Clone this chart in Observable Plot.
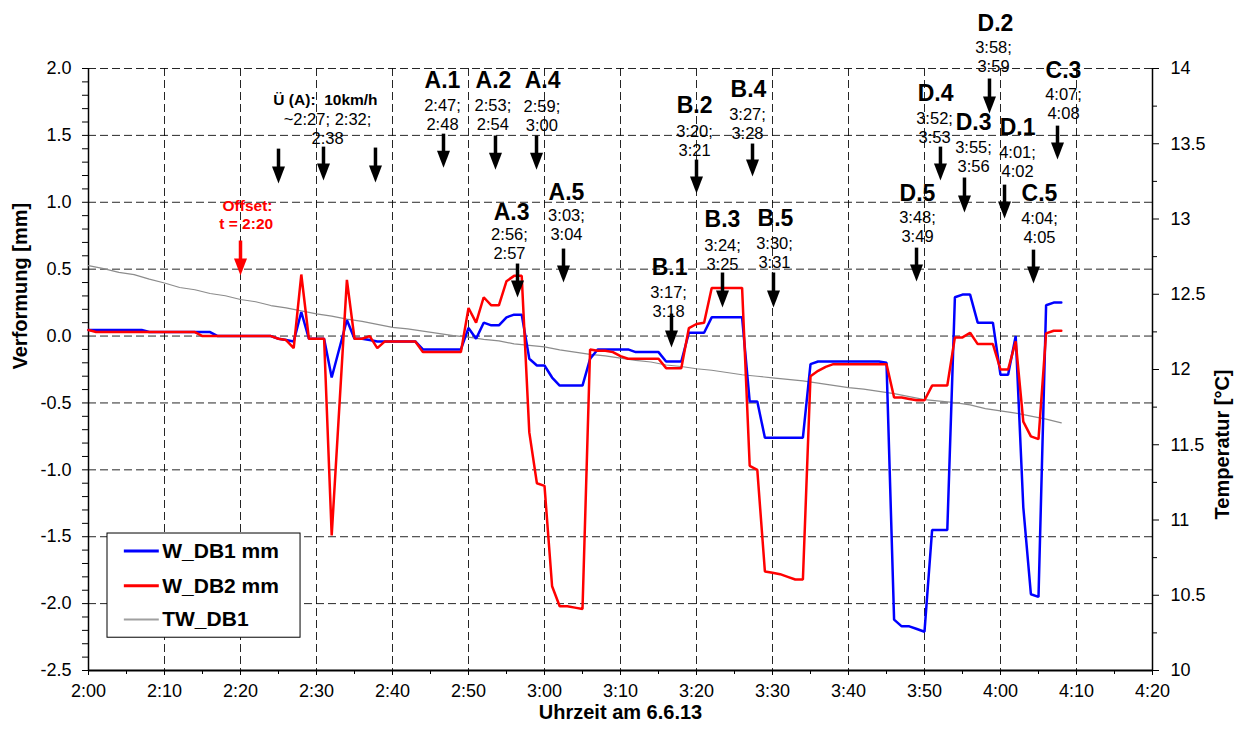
<!DOCTYPE html>
<html><head><meta charset="utf-8">
<script src="https://cdn.jsdelivr.net/npm/d3@7"></script>
<script src="https://cdn.jsdelivr.net/npm/@observablehq/plot@0.6"></script>
<style>html,body{margin:0;padding:0;background:#fff;}</style>
</head><body><div id="chart"></div>
<script>
// ---- data: minutes after 2:00 ----
const minutes = [0,1,2,3,4,5,6,7,8,9,10,11,12,13,14,15,16,17,18,19,20,21,22,23,24,25,26,27,28,29,30,31,32,
 34,35,36,37,38,39,40,41,42,43,44,45,46,47,48,49,50,51,52,53,54,55,56,57,58,59,60,61,62,63,64,65,66,67,68,69,
 70,71,72,73,74,75,76,77,78,79,80,81,82,83,84,85,86,87,88,89,90,91,92,93,94,95,96,97,98,99,100,101,102,103,104,
 105,106,107,108,109,110,111,112,113,114,115,116,117,118,119,120,121,122,123,124,125,126,127,128];
const wDB1 = [0.045,0.045,0.045,0.045,0.045,0.045,0.045,0.045,0.03,0.03,0.03,0.03,0.03,0.03,0.03,0.03,0.03,0,0,0,0,0,0,0,0,-0.02,-0.03,-0.04,0.18,-0.02,-0.02,-0.02,-0.31,
 0.12,-0.02,-0.02,-0.03,-0.04,-0.04,-0.04,-0.04,-0.04,-0.04,-0.1,-0.1,-0.1,-0.1,-0.1,-0.1,0.06,-0.02,0.1,0.08,0.08,0.14,0.16,0.16,-0.17,-0.22,-0.22,-0.31,-0.37,-0.37,-0.37,-0.37,-0.17,-0.1,-0.1,-0.1,
 -0.1,-0.1,-0.12,-0.12,-0.12,-0.12,-0.19,-0.19,-0.19,0.025,0.025,0.025,0.14,0.14,0.14,0.14,0.14,-0.49,-0.49,-0.76,-0.76,-0.76,-0.76,-0.76,-0.76,-0.21,-0.19,-0.19,-0.19,-0.19,-0.19,-0.19,-0.19,-0.19,-0.19,
 -0.2,-2.12,-2.17,-2.17,-2.19,-2.21,-1.45,-1.45,-1.45,0.29,0.31,0.31,0.1,0.1,0.1,-0.29,-0.29,0,-1.28,-1.93,-1.95,0.23,0.25,0.25];
const wDB2 = [0.045,0.03,0.03,0.03,0.03,0.03,0.03,0.03,0.03,0.03,0.03,0.03,0.03,0.03,0.03,0,0,0,0,0,0,0,0,0,0,-0.02,-0.03,-0.09,0.46,-0.02,-0.02,-0.02,-1.49,
 0.42,-0.02,-0.02,0,-0.09,-0.04,-0.04,-0.04,-0.04,-0.04,-0.12,-0.12,-0.12,-0.12,-0.12,-0.12,0.21,0.1,0.29,0.23,0.23,0.41,0.45,0.45,-0.72,-1.1,-1.12,-1.87,-2.02,-2.02,-2.03,-2.04,-0.1,-0.11,-0.11,-0.12,
 -0.15,-0.17,-0.17,-0.17,-0.17,-0.17,-0.24,-0.24,-0.24,0.06,0.09,0.1,0.36,0.36,0.36,0.36,0.36,-0.97,-1.0,-1.76,-1.77,-1.78,-1.8,-1.82,-1.82,-0.3,-0.26,-0.23,-0.21,-0.21,-0.21,-0.21,-0.21,-0.21,-0.21,
 -0.21,-0.46,-0.46,-0.47,-0.48,-0.48,-0.37,-0.37,-0.37,-0.01,-0.01,0.025,-0.06,-0.06,-0.06,-0.25,-0.25,-0.04,-0.64,-0.75,-0.77,0.02,0.04,0.04];
const tempMinutes = [0,2,4,6,8,10,12,14,16,18,20,22,24,26,28,30,32,34,36,38,40,42,44,46,48,50,52,54,56,58,60,62,64,
 66,68,70,72,74,76,78,80,82,84,86,88,90,92,94,96,98,100,102,104,106,108,110,112,114,116,118,120,122,124,126,128];
const twDB1 = [12.69,12.67,12.645,12.63,12.6,12.575,12.545,12.53,12.505,12.49,12.465,12.45,12.425,12.41,12.39,12.37,12.355,
 12.335,12.32,12.3,12.28,12.27,12.255,12.24,12.225,12.215,12.2,12.19,12.17,12.16,12.15,12.13,12.115,
 12.1,12.09,12.075,12.06,12.05,12.03,12.02,12.005,11.995,11.98,11.965,11.955,11.945,11.935,11.925,11.91,11.895,
 11.88,11.87,11.855,11.84,11.82,11.8,11.79,11.78,11.765,11.74,11.725,11.71,11.69,11.67,11.645];

// ---- ticks ----
const xTicks = [0,10,20,30,40,50,60,70,80,90,100,110,120,130,140];
const xMinor = [5,15,25,35,45,55,65,75,85,95,105,115,125,135];
const xGrid = [10,20,30,40,50,60,70,80,90,100,110,120,130];
const yTicks = [-2.5,-2,-1.5,-1,-0.5,0,0.5,1,1.5,2];
const yGrid = [-2,-1.5,-1,-0.5,0,0.5,1,1.5,2];
const yMinor = [-2.4,-2.3,-2.2,-2.1,-1.9,-1.8,-1.7,-1.6,-1.4,-1.3,-1.2,-1.1,-0.9,-0.8,-0.7,-0.6,-0.4,-0.3,-0.2,-0.1,0.1,0.2,0.3,0.4,0.6,0.7,0.8,0.9,1.1,1.2,1.3,1.4,1.6,1.7,1.8,1.9];
const tTicks = [10,10.5,11,11.5,12,12.5,13,13.5,14];
const tMinor = [10.25,10.75,11.25,11.75,12.25,12.75,13.25,13.75];

// ---- annotations (x in minutes after 2:00, y in mm) ----
const annNames  = ["A.1","A.2","A.4","A.5","A.3","B.1","B.2","B.4","B.3","B.5","D.2","C.3","D.4","D.3","D.1","D.5","C.5"];
const annNameX  = [46.58,53.29,59.74,62.89,55.66,76.45,79.74,86.84,83.42,90.39,119.34,128.29,111.45,116.45,122.24,109.08,125.13];
const annNameY  = [1.91,1.91,1.91,1.073,0.923,0.514,1.723,1.842,0.871,0.878,2.336,1.984,1.812,1.596,1.558,1.065,1.065];
const annTimes  = ["2:47;\n2:48","2:53;\n2:54","2:59;\n3:00","3:03;\n3:04","2:56;\n2:57","3:17;\n3:18","3:20;\n3:21","3:27;\n3:28","3:24;\n3:25","3:30;\n3:31","3:58;\n3:59","4:07;\n4:08","3:52;\n3:53","3:55;\n3:56","4:01;\n4:02","3:48;\n3:49","4:04;\n4:05"];
const annTimesX = [46.58,53.21,59.66,62.89,55.39,76.32,79.74,86.71,83.42,90.26,119.08,128.29,111.32,116.45,122.24,109.08,125.13];
const annTimesY = [1.659,1.659,1.652,0.837,0.691,0.258,1.461,1.588,0.613,0.624,2.089,1.738,1.562,1.345,1.308,0.822,0.815];
const arrowX    = [25.0,30.92,37.76,46.71,53.55,58.95,62.5,56.45,76.71,80.0,87.37,83.42,90.13,118.55,127.5,112.1,115.26,120.53,108.95,124.34];
const arrowTop  = [1.401,1.416,1.409,1.513,1.499,1.499,0.654,0.542,0.168,1.319,1.439,0.475,0.475,1.925,1.573,1.416,1.185,1.132,0.661,0.646];
const arrowTip  = [1.14,1.162,1.147,1.259,1.244,1.244,0.4,0.288,-0.086,1.065,1.192,0.213,0.213,1.663,1.319,1.162,0.923,0.878,0.407,0.392];
const overLabel = ["Ü (A):\u00a0 10km/h"];
const overTimes = ["~2:27; 2:32;\n2:38"];
const offsetLabels = ["Offset:", "t = 2:20"];
const offsetX = [20.92, 20.75];
const offsetY = [0.975, 0.839];
const offsetArrow = [{x: 20, top: 0.714, tip: 0.452}];

// legend
const legendNames = ["W_DB1 mm","W_DB2 mm","TW_DB1"];
const legendColors = ["#0000ff","#ff0000","#a0a0a0"];
const legendWidths = [3,3,2];
const legendY = [-1.607,-1.867,-2.119];
const legendBox = [{x1: 2.5, x2: 27.9, y1: -2.255, y2: -1.476}];

// ---- helpers ----
const toMm = t => (t - 10) * 1.125 - 2.5;
const toT = v => Math.round(((v + 2.5) / 1.125 + 10) * 100) / 100;
const fmtTime = m => `${2 + Math.floor(m / 60)}:${String(m % 60).padStart(2, "0")}`;
const headLen = 0.1;
const arrowHead = {draw(ctx) { ctx.moveTo(-6.5, -17); ctx.lineTo(6.5, -17); ctx.lineTo(0, 0); ctx.closePath(); }};
const arrows = arrowX.map((x, i) => ({x, top: arrowTop[i], tip: arrowTip[i]}));
const FONT = "Liberation Sans, Arial, Helvetica, sans-serif";
const gridStyle = {stroke: "#000", strokeOpacity: 0.85, strokeDasharray: "8,4", strokeWidth: 1};

const chart = Plot.plot({
  width: 1245, height: 731,
  marginLeft: 88, marginRight: 93, marginTop: 68, marginBottom: 61,
  style: {fontFamily: FONT, fontSize: "18px", background: "#fff", color: "#000", overflow: "visible"},
  x: {domain: [0, 140]},
  y: {domain: [-2.5, 2]},
  marks: [
    Plot.gridX({ticks: xGrid, ...gridStyle}),
    Plot.gridY({ticks: yGrid, ...gridStyle}),
    Plot.axisX({ticks: xTicks, tickFormat: fmtTime, tickSize: 5, tickPadding: 9, label: null, fontSize: 18}),
    Plot.axisX({ticks: xMinor, tickFormat: () => "", tickSize: 4, label: null}),
    Plot.axisY({ticks: yTicks, tickFormat: d => d.toFixed(1), tickSize: 6, tickPadding: 11, label: null, fontSize: 18}),
    Plot.axisY({ticks: yMinor, tickFormat: () => "", tickSize: 6, label: null}),
    Plot.axisY({anchor: "right", ticks: tTicks.map(toMm), tickFormat: d => String(toT(d)), tickSize: 6, tickPadding: 12, label: null, fontSize: 18}),
    Plot.axisY({anchor: "right", ticks: tMinor.map(toMm), tickFormat: () => "", tickSize: 4, label: null}),
    Plot.ruleX([0, 140], {stroke: "#000", strokeWidth: 1.5}),
    Plot.ruleY([-2.5], {stroke: "#000", strokeWidth: 2}),
    // axis titles
    Plot.text(["Verformung [mm]"], {frameAnchor: "left", dx: -68, rotate: -90, text: d => d, fontWeight: "bold", fontSize: 20}),
    Plot.text(["Temperatur [°C]"], {frameAnchor: "right", dx: 70, rotate: -90, text: d => d, fontWeight: "bold", fontSize: 20}),
    Plot.text(["Uhrzeit am 6.6.13"], {frameAnchor: "bottom", dy: 48, text: d => d, fontWeight: "bold", fontSize: 20}),
    // legend
    Plot.rect(legendBox, {x1: "x1", x2: "x2", y1: "y1", y2: "y2", fill: "#fff", stroke: "#000", strokeWidth: 1}),
    Plot.link(legendNames, {x1: 4.65, x2: 9.25, y1: (d, i) => legendY[i], y2: (d, i) => legendY[i], stroke: (d, i) => legendColors[i], strokeWidth: (d, i) => legendWidths[i]}),
    Plot.text(legendNames, {x: 9.7, y: (d, i) => legendY[i], text: d => d, textAnchor: "start", fontWeight: "bold", fontSize: 21}),
    // series
    Plot.line(tempMinutes, {x: d => d, y: (d, i) => toMm(twDB1[i]), stroke: "#8c8c8c", strokeWidth: 1.2}),
    Plot.line(minutes, {x: d => d, y: (d, i) => wDB1[i], stroke: "#0000ff", strokeWidth: 2.5, strokeLinejoin: "miter"}),
    Plot.line(minutes, {x: d => d, y: (d, i) => wDB2[i], stroke: "#ff0000", strokeWidth: 2.5, strokeLinejoin: "miter"}),
    // annotations
    Plot.link(arrows, {x1: "x", x2: "x", y1: "top", y2: d => d.tip + headLen, stroke: "#000", strokeWidth: 3.5}),
    Plot.dot(arrows, {x: "x", y: "tip", symbol: arrowHead, fill: "#000", stroke: "none"}),
    Plot.text(annNames, {x: (d, i) => annNameX[i], y: (d, i) => annNameY[i], text: d => d, fontWeight: "bold", fontSize: 23}),
    Plot.text(annTimes, {x: (d, i) => annTimesX[i], y: (d, i) => annTimesY[i], text: d => d, fontSize: 16.5, lineHeight: 1.15}),
    Plot.text(overLabel, {x: 31.18, y: 1.768, text: d => d, fontWeight: "bold", fontSize: 15.5}),
    Plot.text(overTimes, {x: 31.45, y: 1.555, text: d => d, fontSize: 16.5, lineHeight: 1.15}),
    Plot.text(offsetLabels, {x: (d, i) => offsetX[i], y: (d, i) => offsetY[i], text: d => d, fontWeight: "bold", fontSize: 15.5, fill: "#ff0000"}),
    Plot.link(offsetArrow, {x1: "x", x2: "x", y1: "top", y2: d => d.tip + headLen, stroke: "#ff0000", strokeWidth: 3.5}),
    Plot.dot(offsetArrow, {x: "x", y: "tip", symbol: arrowHead, fill: "#ff0000", stroke: "none"})
  ]
});
document.getElementById("chart").append(chart);
</script>
</body></html>
